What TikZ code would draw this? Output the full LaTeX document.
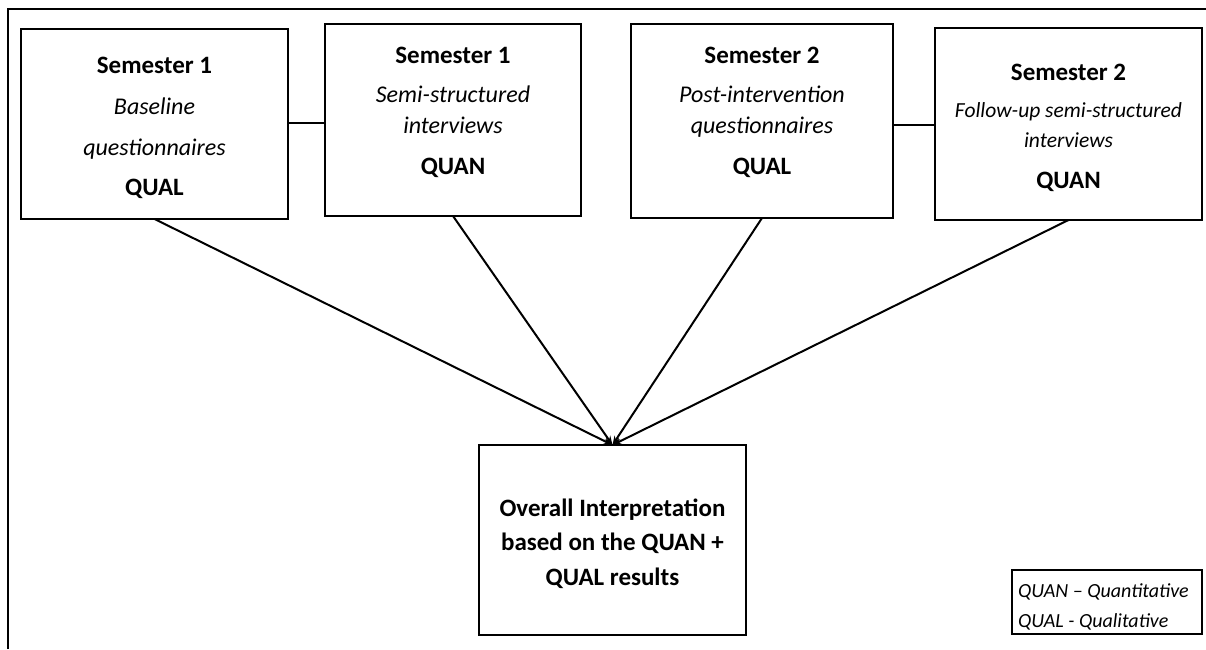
\documentclass[tikz,border=0pt]{standalone}
\usepackage{fontspec}
\setmainfont{Carlito}
\usetikzlibrary{arrows.meta}
\begin{document}
\begin{tikzpicture}[x=1pt,y=-1pt,
  box/.style={draw, line width=2.4pt, inner sep=0pt, outer sep=0pt},
  bt/.style={font=\fontsize{25}{30}\selectfont\bfseries, anchor=base, inner sep=0pt},
  it/.style={font=\fontsize{24}{29}\selectfont\itshape, anchor=base, inner sep=0pt},
  its/.style={font=\fontsize{21.5}{25}\selectfont\itshape, anchor=base, inner sep=0pt},
  lg/.style={font=\fontsize{20}{24}\selectfont\itshape, anchor=base west, inner sep=0pt},
  conn/.style={line width=2pt},
  arr/.style={line width=2pt, -{Stealth[length=9pt,width=7pt]}}
]
\useasboundingbox (0,0) rectangle (1206,649);
% frame
\coordinate (fbl) at (8,649);
\coordinate (ftl) at (8,9);
\coordinate (ftr) at (1206,9);
\draw[line width=2pt] (fbl) -- (ftl) -- (ftr);

% boxes
\node[box, minimum width=267pt, minimum height=190pt] (b1) at (154.5,124) {};
\node[box, minimum width=256pt, minimum height=192pt] (b2) at (453,120) {};
\node[box, minimum width=262pt, minimum height=194pt] (b3) at (762,121) {};
\node[box, minimum width=267pt, minimum height=192pt] (b4) at (1068.5,124) {};
\node[box, minimum width=267pt, minimum height=190pt] (b5) at (612.5,540) {};
\node[box, line width=2pt, minimum width=190pt, minimum height=64pt] (lgd) at (1107,602) {};

% box 1 text
\node[bt] (t11) at (154.5,73) {Semester 1};
\node[it] (t12) at (154.5,114) {Baseline};
\node[it] (t13) at (154.5,155) {questionnaires};
\node[bt] (t14) at (154.5,195) {QUAL};
% box 2 text
\node[bt] (t21) at (453,63) {Semester 1};
\node[it] (t22) at (453,102) {Semi-structured};
\node[it] (t23) at (453,133) {interviews};
\node[bt] (t24) at (453,174) {QUAN};
% box 3 text
\node[bt] (t31) at (762,63) {Semester 2};
\node[it] (t32) at (762,102) {Post-intervention};
\node[it] (t33) at (762,133) {questionnaires};
\node[bt] (t34) at (762,174) {QUAL};
% box 4 text
\node[bt] (t41) at (1068.5,80) {Semester 2};
\node[its] (t42) at (1068.5,117) {Follow-up semi-structured};
\node[its] (t43) at (1068.5,147) {interviews};
\node[bt] (t44) at (1068.5,188) {QUAN};
% bottom box text
\node[bt] (t51) at (612.5,516) {Overall Interpretation};
\node[bt] (t52) at (612.5,550) {based on the QUAN +};
\node[bt] (t53) at (612.5,585) {QUAL results};
% legend
\node[lg] (l1) at (1018,597) {QUAN – Quantitative};
\node[lg] (l2) at (1018,627) {QUAL - Qualitative};

% connectors
\draw[conn] (b1.east |- 0,123) -- (b2.west |- 0,123);
\draw[conn] (b3.east |- 0,125) -- (b4.west |- 0,125);
\draw[arr] (b1.south) -- (b5.north);
\draw[arr] (b2.south) -- (b5.north);
\draw[arr] (b3.south) -- (b5.north);
\draw[arr] (b4.south) -- (b5.north);
\end{tikzpicture}
\end{document}
